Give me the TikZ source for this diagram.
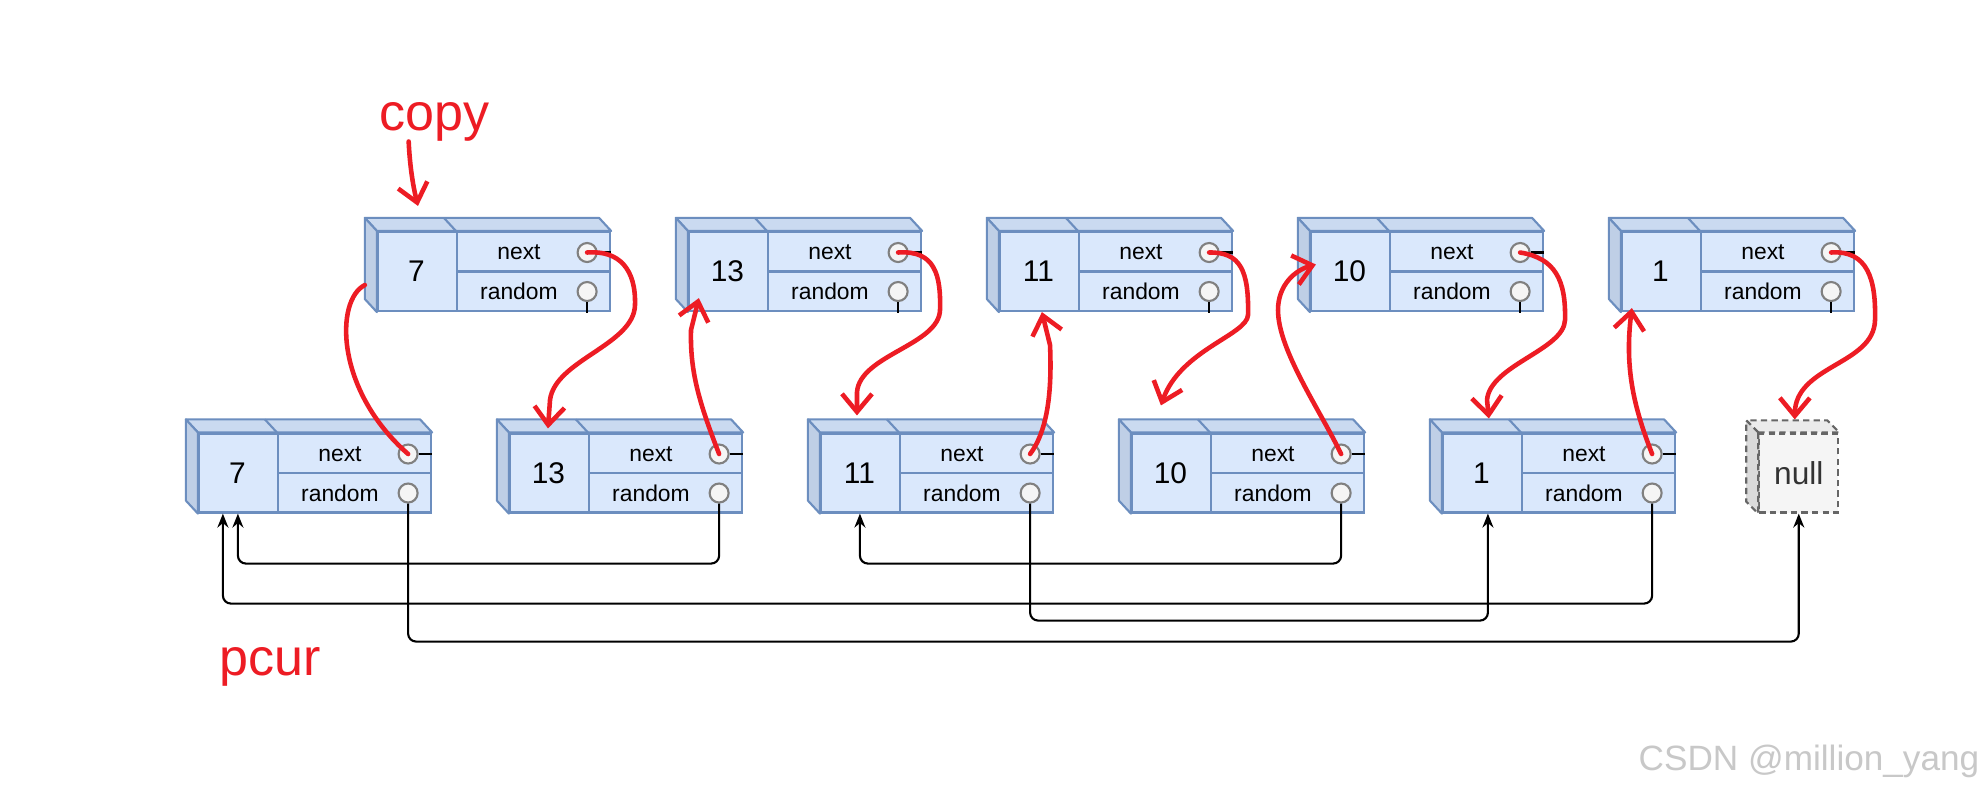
\documentclass[tikz,border=0pt]{standalone}
\usepackage{fontspec}
\setmainfont{Liberation Sans}
\usepackage{xcolor}
\definecolor{cFace}{HTML}{DAE8FC}
\definecolor{cTop}{HTML}{CADAF0}
\definecolor{cSide}{HTML}{BFCFE6}
\definecolor{cEdge}{HTML}{6C8EBF}
\definecolor{cRed}{HTML}{ED1C24}
\definecolor{cPtr}{HTML}{F5F5F5}
\definecolor{cPtrEdge}{HTML}{808080}
\definecolor{cNull}{HTML}{F5F5F5}
\definecolor{cNullTop}{HTML}{EBEBEB}
\definecolor{cNullSide}{HTML}{DADADA}
\definecolor{cNullEdge}{HTML}{666666}
\definecolor{cMark}{HTML}{C8C8C8}
\usepackage{tikz}
\usetikzlibrary{positioning,arrows.meta}
\tikzset{
  node-box/.style={draw=cEdge,fill=cFace,line width=0.6pt,inner sep=0pt,
    minimum width=2.32cm,minimum height=0.79cm,
    path picture={
      \draw[cEdge,line width=0.6pt]
        ([xshift=0.79cm]path picture bounding box.north west) --
        ([xshift=0.79cm]path picture bounding box.south west)
        ([xshift=0.79cm]path picture bounding box.west) --
        (path picture bounding box.east);
    }},
  node-null/.style={draw=cNullEdge,fill=cNull,line width=0.6pt,
    dash pattern=on 1.8pt off 1.2pt,inner sep=0pt,minimum size=0.79cm,
    text=black!80,font=\fontsize{9}{11}\selectfont},
  node-ptr/.style={circle,draw=cPtrEdge,fill=cPtr,line width=0.6pt,
    minimum size=0.19cm,inner sep=0pt},
  txt-val/.style={inner sep=0pt,font=\fontsize{8.5}{10}\selectfont},
  txt-field/.style={inner sep=0pt,font=\fontsize{6.5}{8}\selectfont},
  face-top/.style={fill=cTop,draw=cEdge,line width=0.6pt,line join=round},
  face-side/.style={fill=cSide,draw=cEdge,line width=0.6pt,line join=round},
  face-edge/.style={draw=cEdge,line width=0.6pt},
  null-top/.style={fill=cNullTop,draw=cNullEdge,line width=0.6pt,
    dash pattern=on 1.8pt off 1.2pt},
  null-side/.style={fill=cNullSide,draw=cNullEdge,line width=0.6pt,
    dash pattern=on 1.8pt off 1.2pt},
  stub/.style={draw=black,line width=0.6pt},
  arrow-rand/.style={-{Stealth[length=1.4mm,width=1.1mm]},line width=0.6pt,
    draw=black,rounded corners=0.08cm},
  arrow-red/.style={-{Straight Barb[length=1.8mm,width=3mm]},line width=1.3pt,
    draw=cRed,line cap=round,line join=round},
  line-red/.style={line width=1.3pt,draw=cRed,line cap=round},
  label-red/.style={text=cRed,inner sep=0pt,font=\fontsize{14.8}{17}\selectfont},
}
\begin{document}
\begin{tikzpicture}[x=0.01cm,y=-0.01cm]
  \useasboundingbox (0,0) rectangle (1983,796);
  \fill[white] (0,0) rectangle (1983,796);

  % copy row (c) and original row (p)
  \foreach \val [count=\i from 0] in {7,13,11,10,1} {
    \foreach \row/\px/\py in {c/494/271.5,p/315/473} {
      \node[node-box] (\row\val) at (\px+311*\i,\py) {};
      \filldraw[face-top] (\row\val.north west) -- ++(-12,-13)
        -- ([shift={(-12,-13)}]\row\val.north east) -- (\row\val.north east) -- cycle;
      \filldraw[face-side] (\row\val.north west) -- ++(-12,-13)
        -- ([shift={(-12,-13)}]\row\val.south west) -- (\row\val.south west) -- cycle;
      \draw[face-edge] ([xshift=0.79cm]\row\val.north west) -- ++(-12,-13);
      \node[txt-val] at ([xshift=0.395cm]\row\val.west) {\val};
      \node[txt-field] at ([xshift=1.42cm,yshift=0.19cm]\row\val.west) {next};
      \node[txt-field] at ([xshift=1.42cm,yshift=-0.2cm]\row\val.west) {random};
      \node[node-ptr] (\row\val next) at ([xshift=-0.24cm,yshift=0.19cm]\row\val.east) {};
      \node[node-ptr] (\row\val rand) at ([xshift=-0.24cm,yshift=-0.2cm]\row\val.east) {};
      \draw[stub] (\row\val next.east) -- (\row\val next.east -| \row\val.east);
      \draw[stub] (\row\val rand.south) -- ++(0,11);
    }
  }

  \node[node-null,right=0.82cm of p1] (nl) {};
  \filldraw[null-top] (nl.north west) -- ++(-12,-12)
    -- ([shift={(-12,-12)}]nl.north east) -- (nl.north east) -- cycle;
  \filldraw[null-side] (nl.north west) -- ++(-12,-12)
    -- ([shift={(-12,-12)}]nl.south west) -- (nl.south west) -- cycle;
  \node[txt-val,font=\fontsize{9}{11}\selectfont,text=black!80] at (nl) {null};

  % random pointers
  \draw[arrow-rand] (p7rand.south) -- ++(0,138) -| (nl.south);
  \draw[arrow-rand] (p13rand.south) -- ++(0,60) -| ([xshift=0.40cm]p7.south west);
  \draw[arrow-rand] (p11rand.south) -- ++(0,117) -| ([xshift=0.46cm]p1.south west);
  \draw[arrow-rand] (p10rand.south) -- ++(0,60) -| ([xshift=0.40cm]p11.south west);
  \draw[arrow-rand] (p1rand.south) -- ++(0,100) -| ([xshift=0.25cm]p7.south west);

  % labels
  \node[label-red,anchor=base west] (copy) at (379,130) {copy};
  \node[label-red,anchor=base west] (pcur) at (219,675) {pcur};
  \node[anchor=base east,inner sep=0pt,text=cMark,font=\fontsize{10}{12}\selectfont]
    (mark) at (1980,770) {CSDN @million\_yang};

  % hand drawn links
  \draw[arrow-red] ([xshift=-0.26cm]copy.south) .. controls (410,170) and (414,190)
    .. ([xshift=-0.76cm,yshift=0.25cm]c7.north);
  \draw[line-red] ([xshift=-0.12cm,yshift=-0.135cm]c7.west) .. controls (335,300)
    and (335,390) .. (p7next.center);
  \draw[arrow-red] (c7next.center) .. controls (620,250) and (636,270) .. (635,305)
    .. controls (634,345) and (555,360) .. (550,400)
    -- ([xshift=-0.78cm,yshift=0.04cm]p13.north);
  \draw[arrow-red] (p13next.center) .. controls (698,400) and (690,370) .. (691,330)
    -- ([xshift=0.11cm,yshift=0.14cm]c13.south west);
  \draw[arrow-red] (c13next.center) .. controls (935,250) and (941,275) .. (940,310)
    .. controls (939,345) and (860,355) .. (857,392)
    -- ([xshift=-0.80cm,yshift=0.17cm]p11.north);
  \draw[arrow-red] (p11next.center) .. controls (1048,430) and (1052,390) .. (1050,345)
    -- ([xshift=0.43cm]c11.south west);
  \draw[arrow-red] (c11next.center) .. controls (1240,252) and (1249,270) .. (1248,315)
    .. controls (1247,335) and (1180,350) .. ([xshift=0.30cm,yshift=0.27cm]p10.north west);
  \draw[arrow-red] (p10next.center) .. controls (1320,410) and (1278,350) .. (1278,310)
    .. controls (1278,285) and (1295,270) .. ([xshift=0.06cm,yshift=0.07cm]c10.west);
  \draw[arrow-red] (c10next.center) .. controls (1555,258) and (1566,280) .. (1565,320)
    .. controls (1564,350) and (1490,365) .. (1487,400)
    -- ([xshift=0.47cm,yshift=0.14cm]p1.north west);
  \draw[arrow-red] (p1next.center) .. controls (1635,410) and (1624,370)
    .. ([xshift=0.11cm,yshift=0.04cm]c1.south west);
  \draw[arrow-red] (c1next.center) .. controls (1868,250) and (1876,280) .. (1875,320)
    .. controls (1874,365) and (1795,365) .. ([xshift=-0.04cm,yshift=0.13cm]nl.north);
\end{tikzpicture}
\end{document}
